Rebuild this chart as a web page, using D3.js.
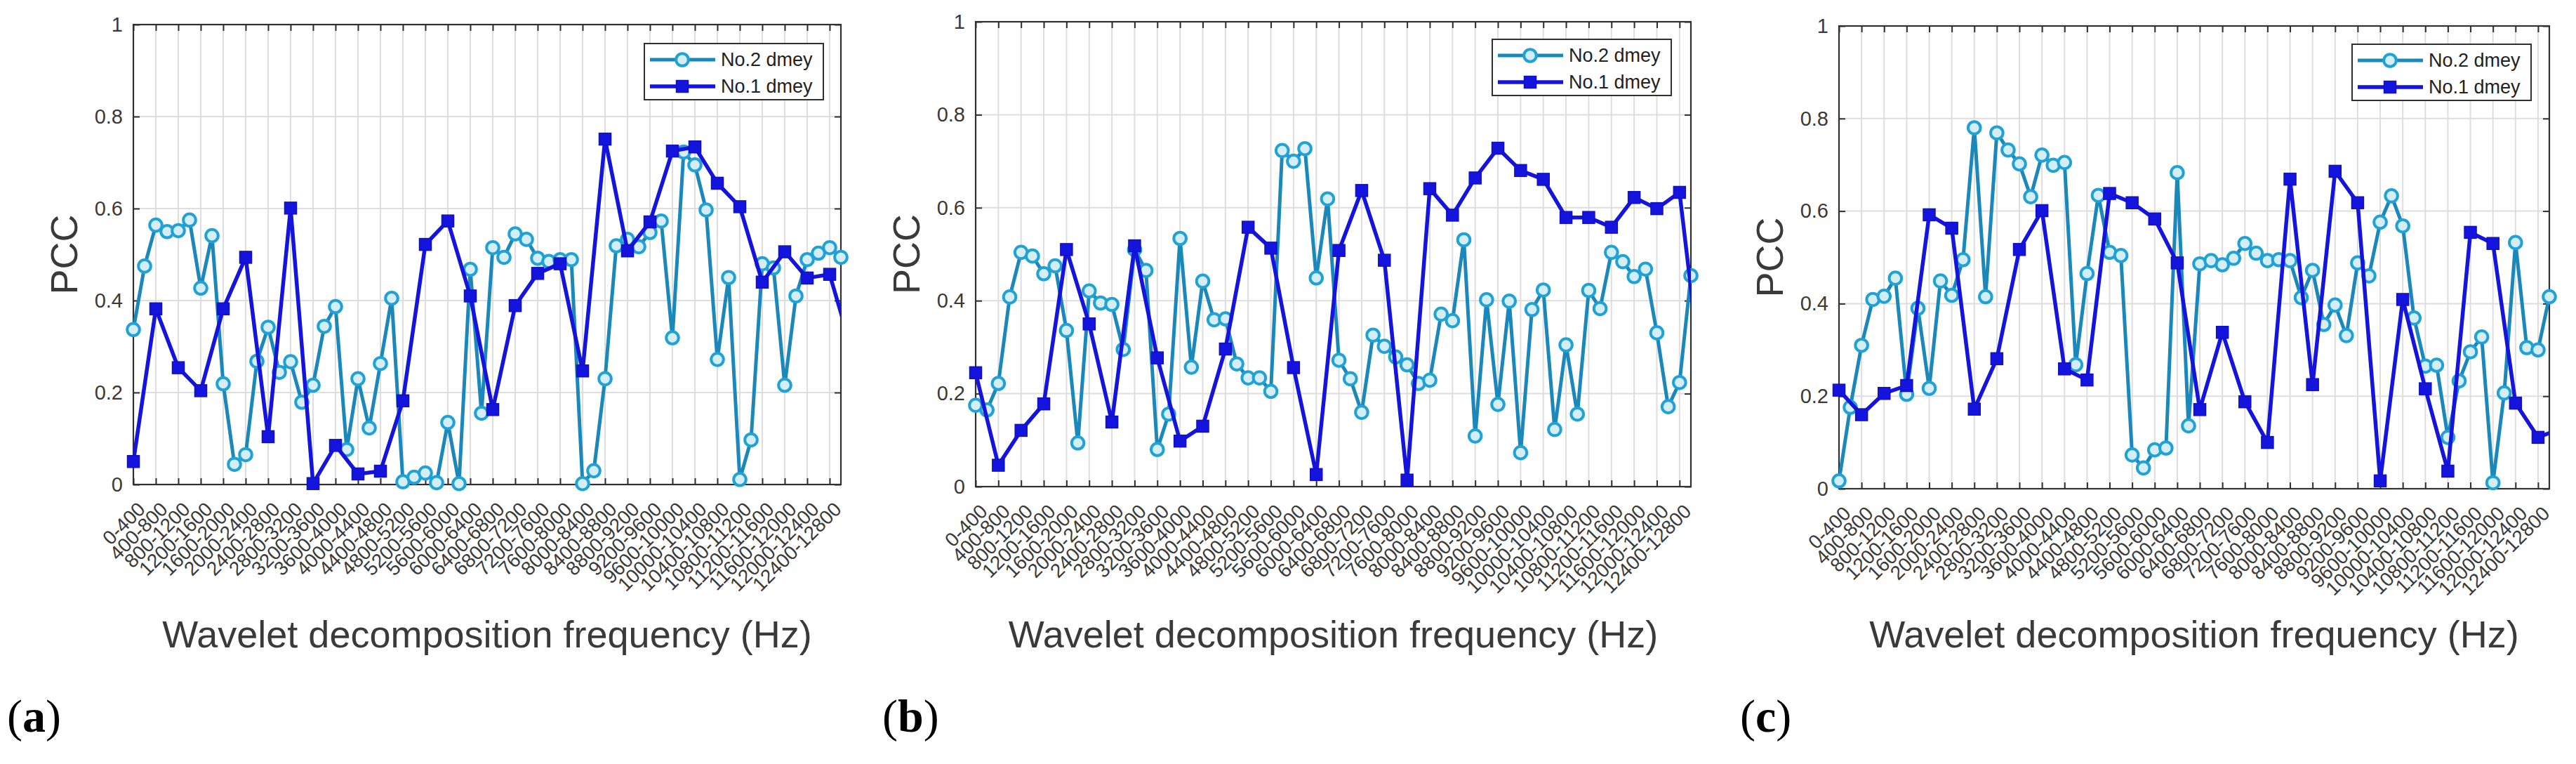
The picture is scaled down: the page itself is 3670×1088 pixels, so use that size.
<!DOCTYPE html>
<html><head><meta charset="utf-8">
<script src="https://cdn.jsdelivr.net/npm/d3@7"></script>
<style>body{margin:0;background:#fff} svg{display:block}</style>
</head><body>
<svg id="chart" width="3670" height="1088"></svg>
<script>
// ---------- data ----------
const categories = ["0-400","400-800","800-1200","1200-1600","1600-2000","2000-2400","2400-2800","2800-3200",
  "3200-3600","3600-4000","4000-4400","4400-4800","4800-5200","5200-5600","5600-6000","6000-6400",
  "6400-6800","6800-7200","7200-7600","7600-8000","8000-8400","8400-8800","8800-9200","9200-9600",
  "9600-10000","10000-10400","10400-10800","10800-11200","11200-11600","11600-12000","12000-12400","12400-12800"];
const yTicks = [0, 0.2, 0.4, 0.6, 0.8, 1];
const seriesNames = ["No.2 dmey", "No.1 dmey"];
const panelLetters = ["a", "b", "c"];
const xTitle = "Wavelet decomposition frequency (Hz)";
const yTitle = "PCC";

// No.2 dmey: two samples per band (half-step); No.1 dmey: one sample per band
const aNo2 = [0.337,0.475,0.564,0.55,0.552,0.575,0.427,0.541,0.219,0.044,0.065,0.268,0.342,0.244,0.267,0.179,
  0.216,0.344,0.387,0.076,0.23,0.123,0.263,0.405,0.006,0.016,0.025,0.004,0.135,0.002,0.468,0.155,
  0.515,0.494,0.545,0.533,0.492,0.485,0.489,0.489,0.002,0.03,0.23,0.519,0.533,0.517,0.548,0.573,
  0.319,0.723,0.695,0.597,0.272,0.45,0.011,0.097,0.48,0.471,0.216,0.41,0.489,0.503,0.515,0.494];
const aNo1 = [0.05,0.382,0.254,0.204,0.382,0.494,0.104,0.601,0.002,0.085,0.023,0.029,0.182,0.522,0.573,0.41,
  0.163,0.389,0.459,0.48,0.247,0.751,0.508,0.571,0.725,0.734,0.655,0.604,0.44,0.506,0.449,0.457,0.29];

const bNo2 = [0.175,0.165,0.222,0.408,0.504,0.496,0.458,0.475,0.336,0.094,0.421,0.395,0.392,0.295,0.51,0.465,
  0.08,0.156,0.534,0.257,0.442,0.359,0.361,0.264,0.234,0.234,0.205,0.723,0.70,0.727,0.449,0.619,
  0.272,0.232,0.16,0.326,0.302,0.279,0.262,0.222,0.229,0.371,0.357,0.531,0.109,0.402,0.177,0.399,
  0.073,0.381,0.423,0.123,0.305,0.156,0.422,0.383,0.504,0.484,0.452,0.468,0.331,0.172,0.224,0.454];
const bNo1 = [0.245,0.046,0.121,0.178,0.51,0.35,0.139,0.518,0.277,0.098,0.13,0.296,0.558,0.513,0.256,0.026,
  0.508,0.637,0.487,0.014,0.641,0.584,0.664,0.728,0.68,0.661,0.579,0.579,0.558,0.622,0.598,0.633,0.22];

const cNo2 = [0.017,0.176,0.31,0.409,0.416,0.455,0.204,0.39,0.217,0.449,0.418,0.495,0.78,0.415,0.769,0.732,
  0.702,0.631,0.721,0.699,0.705,0.268,0.465,0.634,0.511,0.504,0.073,0.045,0.084,0.088,0.683,0.136,
  0.486,0.493,0.484,0.498,0.53,0.509,0.493,0.495,0.493,0.413,0.472,0.355,0.397,0.331,0.488,0.46,
  0.576,0.633,0.568,0.369,0.265,0.267,0.111,0.233,0.296,0.328,0.013,0.207,0.532,0.305,0.30,0.415];
const cNo1 = [0.213,0.16,0.206,0.223,0.592,0.563,0.172,0.281,0.517,0.601,0.259,0.235,0.638,0.618,0.583,0.488,
  0.171,0.338,0.188,0.10,0.669,0.225,0.686,0.618,0.017,0.409,0.216,0.038,0.554,0.53,0.185,0.111,0.13];

// ---------- layout ----------
const panels = [
  {no2: aNo2, no1: aNo1, l: 190, r: 1198, t: 35, b: 690, tagX: 10, legX: 918, legY: 62},
  {no2: bNo2, no1: bNo1, l: 1390, r: 2409, t: 31, b: 693, tagX: 1257, legX: 2126, legY: 56},
  {no2: cNo2, no1: cNo1, l: 2620, r: 3632, t: 37, b: 696, tagX: 2479, legX: 3351, legY: 63}
];
const C2 = "#1b88bb", C2m = "#20a2d6", C2fill = "#d3eef9";
const C1 = "#1414dc";
const TXT = "#3a3a3a";
const FONT = "'Liberation Sans', Arial, Helvetica, sans-serif";

const svg = d3.select("#chart");

function drawCircle(g, cx, cy) {
  g.append("circle").attr("cx", cx).attr("cy", cy).attr("r", 8.8)
    .attr("fill", C2fill).attr("stroke", C2m).attr("stroke-width", 4);
}
function drawSquare(g, cx, cy) {
  g.append("rect").attr("x", cx - 8.5).attr("y", cy - 8.5).attr("width", 17).attr("height", 17)
    .attr("fill", C1).attr("stroke", "#1010c8").attr("stroke-width", 1.5);
}

panels.forEach((p, pi) => {
  const n = categories.length;
  const x = d3.scaleLinear().domain([0, n - 0.5]).range([p.l, p.r]);
  const y = d3.scaleLinear().domain([0, 1]).range([p.b, p.t]);
  const g = svg.append("g").attr("font-family", FONT);

  // grid
  const grid = g.append("g").attr("stroke", "#dedede").attr("stroke-width", 2);
  d3.range(n).forEach(i => {
    if (i === 0) return;
    grid.append("line").attr("x1", x(i)).attr("x2", x(i)).attr("y1", p.t).attr("y2", p.b);
  });
  yTicks.slice(1, -1).forEach(v => {
    grid.append("line").attr("x1", p.l).attr("x2", p.r).attr("y1", y(v)).attr("y2", y(v));
  });

  // axes
  const xb = g.append("g").attr("transform", `translate(0,${p.b})`)
    .call(d3.axisBottom(x).tickValues(d3.range(n)).tickSizeInner(-9).tickSizeOuter(0)
      .tickFormat(i => categories[i]));
  xb.selectAll("text").attr("y", 0).attr("dy", "0.35em")
    .attr("transform", "translate(11,30) rotate(-45)")
    .attr("text-anchor", "end").attr("font-size", 28).attr("fill", TXT).attr("font-family", FONT);
  const xt = g.append("g").attr("transform", `translate(0,${p.t})`)
    .call(d3.axisTop(x).tickValues(d3.range(n)).tickSizeInner(-9).tickSizeOuter(0).tickFormat(""));
  const yl = g.append("g").attr("transform", `translate(${p.l},0)`)
    .call(d3.axisLeft(y).tickValues(yTicks).tickSizeInner(-9).tickSizeOuter(0).tickPadding(15)
      .tickFormat(d => String(d)));
  yl.selectAll("text").attr("font-size", 29).attr("fill", TXT).attr("font-family", FONT);
  const yr = g.append("g").attr("transform", `translate(${p.r},0)`)
    .call(d3.axisRight(y).tickValues(yTicks).tickSizeInner(-9).tickSizeOuter(0).tickFormat(""));
  [xb, xt, yl, yr].forEach(a => {
    a.select(".domain").remove();
    a.selectAll("line").attr("stroke", "#303030").attr("stroke-width", 2);
  });
  g.append("rect").attr("x", p.l).attr("y", p.t).attr("width", p.r - p.l).attr("height", p.b - p.t)
    .attr("fill", "none").attr("stroke", "#303030").attr("stroke-width", 2.2);

  // clip
  const clipId = "clip" + pi;
  svg.append("clipPath").attr("id", clipId).append("rect")
    .attr("x", p.l).attr("y", p.t - 20).attr("width", p.r - p.l).attr("height", p.b - p.t + 40);

  // series
  const pts2 = p.no2.map((v, i) => [i / 2, v]);
  const pts1 = p.no1.map((v, i) => [i, v]);
  const line = d3.line().x(d => x(d[0])).y(d => y(d[1]));
  g.append("path").attr("d", line(pts2)).attr("fill", "none").attr("stroke", C2)
    .attr("stroke-width", 5).attr("stroke-linejoin", "round").attr("clip-path", `url(#${clipId})`);
  const m2 = g.append("g");
  pts2.forEach(d => drawCircle(m2, x(d[0]), y(d[1])));

  g.append("path").attr("d", line(pts1)).attr("fill", "none").attr("stroke", C1)
    .attr("stroke-width", 5.5).attr("stroke-linejoin", "round").attr("clip-path", `url(#${clipId})`);
  const m1 = g.append("g");
  pts1.filter(d => d[0] <= n - 0.5).forEach(d => drawSquare(m1, x(d[0]), y(d[1])));

  // legend
  const lg = g.append("g").attr("transform", `translate(${p.legX},${p.legY})`);
  lg.append("rect").attr("width", 255).attr("height", 80).attr("fill", "#fff")
    .attr("stroke", "#303030").attr("stroke-width", 2);
  [[C2, 23, "c"], [C1, 61, "s"]].forEach((e, k) => {
    lg.append("line").attr("x1", 8).attr("x2", 101).attr("y1", e[1]).attr("y2", e[1])
      .attr("stroke", e[0]).attr("stroke-width", k === 0 ? 5 : 5.5);
    if (e[2] === "c") drawCircle(lg, 54, e[1]); else drawSquare(lg, 54, e[1]);
    lg.append("text").attr("x", 109).attr("y", e[1]).attr("dy", "0.35em")
      .attr("font-size", 27).attr("fill", "#222").text(seriesNames[k]);
  });

  // axis titles
  g.append("text").attr("x", (p.l + p.r) / 2).attr("y", 922).attr("text-anchor", "middle")
    .attr("font-size", 54).attr("fill", TXT).text(xTitle);
  g.append("text").attr("transform", `translate(${p.l - 99},${(p.t + p.b) / 2}) rotate(-90)`)
    .attr("text-anchor", "middle").attr("dy", "0.35em")
    .attr("font-size", 54).attr("fill", TXT).text(yTitle);

  // panel tag: regular parentheses, bold letter
  const tag = svg.append("text").attr("x", p.tagX).attr("y", 1042)
    .attr("font-family", "'Liberation Serif', 'Times New Roman', serif")
    .attr("font-size", 66).attr("fill", "#000");
  tag.append("tspan").text("(");
  tag.append("tspan").attr("font-weight", "bold").text(panelLetters[pi]);
  tag.append("tspan").text(")");
});
</script>
</body></html>
